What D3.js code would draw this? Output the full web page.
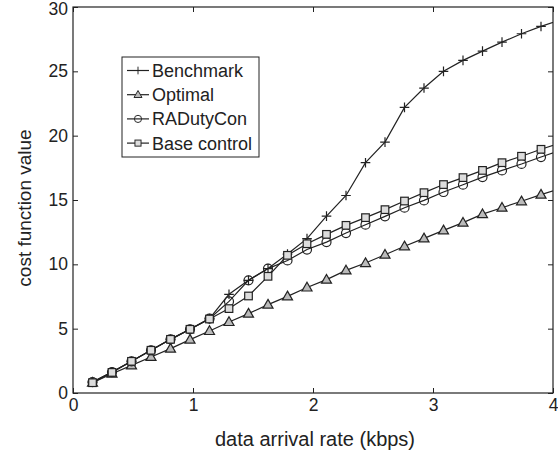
<!DOCTYPE html>
<html>
<head>
<meta charset="utf-8">
<script src="https://cdn.jsdelivr.net/npm/d3@7"></script>
<style>
  body { margin: 0; background: #fff; }
  text { font-family: "Liberation Sans", Arial, sans-serif; fill: #222; }
</style>
</head>
<body>
<div id="chart"></div>
<script>
// data
const xVals = d3.range(1, 26).map((k) => +(k * 0.1625).toFixed(4));
const benchmark = [0.85, 1.63, 2.46, 3.32, 4.17, 4.95, 5.78, 7.67, 8.76, 9.67, 10.8, 12.0, 13.75, 15.35, 17.9, 19.5, 22.2, 23.7, 25.0, 25.85, 26.57, 27.27, 27.92, 28.49, 29.0];
const optimal = [0.8, 1.5, 2.15, 2.8, 3.45, 4.15, 4.82, 5.52, 6.17, 6.87, 7.51, 8.2, 8.81, 9.53, 10.1, 10.75, 11.4, 12.02, 12.64, 13.24, 13.9, 14.4, 14.9, 15.42, 15.9];
const raDutyCon = [0.85, 1.63, 2.46, 3.32, 4.17, 4.95, 5.78, 7.12, 8.76, 9.67, 10.3, 11.15, 11.73, 12.43, 13.08, 13.73, 14.4, 14.97, 15.62, 16.19, 16.78, 17.3, 17.8, 18.34, 18.85];
const baseControl = [0.8, 1.6, 2.46, 3.32, 4.17, 4.95, 5.75, 6.56, 7.54, 9.07, 10.7, 11.6, 12.33, 13.03, 13.63, 14.25, 14.92, 15.57, 16.2, 16.74, 17.3, 17.9, 18.4, 18.94, 19.45];
const xTicks = [0, 1, 2, 3, 4];
const yTicks = [0, 5, 10, 15, 20, 25, 30];

const series = [
  { name: "Benchmark", values: benchmark, marker: "plus" },
  { name: "Optimal", values: optimal, marker: "triangle" },
  { name: "RADutyCon", values: raDutyCon, marker: "circle" },
  { name: "Base control", values: baseControl, marker: "square" },
];

const width = 558, height = 454;
const m = { t: 7, r: 5, b: 61, l: 73 };
const ink = "#222";

const svg = d3.select("#chart").append("svg").attr("width", width).attr("height", height);

const x = d3.scaleLinear().domain([0, 4]).range([m.l, width - m.r]);
const y = d3.scaleLinear().domain([0, 30]).range([height - m.b, m.t]);

svg.append("clipPath").attr("id", "clip")
  .append("rect")
  .attr("x", m.l).attr("y", m.t)
  .attr("width", width - m.l - m.r).attr("height", height - m.t - m.b);

// axes, MATLAB style with inward ticks on all sides
const tk = 5;
const axisStyle = (g) => {
  g.select(".domain").remove();
  g.selectAll("line").attr("stroke", ink);
  g.selectAll("text").attr("font-size", 17.5).style("fill", ink);
};
svg.append("g").attr("transform", `translate(0,${height - m.b})`)
  .call(d3.axisBottom(x).tickValues(xTicks).tickSize(-tk).tickPadding(6).tickFormat(d3.format("d")))
  .call(axisStyle).attr("font-family", null);
svg.append("g").attr("transform", `translate(0,${m.t})`)
  .call(d3.axisTop(x).tickValues(xTicks).tickSize(-tk).tickFormat(""))
  .call(axisStyle);
const yAxisG = svg.append("g").attr("transform", `translate(${m.l},0)`)
  .call(d3.axisLeft(y).tickValues(yTicks).tickSize(-tk).tickPadding(5).tickFormat(d3.format("d")))
  .call(axisStyle).attr("font-family", null);
// keep the top label inside the page
yAxisG.selectAll("text").filter((d) => d === 30).attr("dy", "0.4em");
svg.append("g").attr("transform", `translate(${width - m.r},0)`)
  .call(d3.axisRight(y).tickValues(yTicks).tickSize(-tk).tickFormat(""))
  .call(axisStyle);

svg.append("rect")
  .attr("x", m.l).attr("y", m.t)
  .attr("width", width - m.l - m.r).attr("height", height - m.t - m.b)
  .attr("fill", "none").attr("stroke", ink).attr("stroke-width", 1.2);

svg.append("text")
  .attr("x", 315).attr("y", 446)
  .attr("text-anchor", "middle").attr("font-size", 20)
  .text("data arrival rate (kbps)");
svg.append("text")
  .attr("transform", "translate(31,208) rotate(-90)")
  .attr("text-anchor", "middle").attr("font-size", 19)
  .text("cost function value");

// markers
function drawMarker(g, type) {
  if (type === "plus") {
    g.append("path").attr("d", "M-4.8,0H4.8M0,-4.8V4.8").attr("stroke", ink).attr("stroke-width", 1.2).attr("fill", "none");
  } else if (type === "triangle") {
    g.append("path").attr("d", "M0,-5.2L5,3.5L-5,3.5Z").attr("stroke", ink).attr("stroke-width", 1.2).attr("fill", "#bbb");
  } else if (type === "circle") {
    g.append("circle").attr("r", 4.5).attr("stroke", ink).attr("stroke-width", 1.2).attr("fill", "none");
  } else {
    g.append("rect").attr("x", -3.8).attr("y", -3.8).attr("width", 7.6).attr("height", 7.6).attr("stroke", ink).attr("stroke-width", 1.2).attr("fill", "#ddd");
  }
}

const line = d3.line().x((d) => x(d[0])).y((d) => y(d[1]));
const plot = svg.append("g").attr("clip-path", "url(#clip)");

series.forEach((s) => {
  const pts = xVals.map((xv, i) => [xv, s.values[i]]);
  plot.append("path").datum(pts).attr("d", line)
    .attr("fill", "none").attr("stroke", ink).attr("stroke-width", 1.2);
  plot.selectAll(null).data(pts.filter((p) => p[0] <= 4)).enter().append("g")
    .attr("transform", (p) => `translate(${x(p[0])},${y(p[1])})`)
    .each(function () { drawMarker(d3.select(this), s.marker); });
});

// legend
const lg = svg.append("g").attr("transform", "translate(122,57)");
lg.append("rect").attr("width", 137).attr("height", 100).attr("fill", "#fff").attr("stroke", ink).attr("stroke-width", 1);
series.forEach((s, i) => {
  const cy = 13.5 + i * 24.2;
  lg.append("line").attr("x1", 5).attr("x2", 27).attr("y1", cy).attr("y2", cy).attr("stroke", ink).attr("stroke-width", 1.2);
  const mk = lg.append("g").attr("transform", `translate(16,${cy}) scale(0.8)`);
  drawMarker(mk, s.marker);
  lg.append("text").attr("x", 30).attr("y", cy + 6.5).attr("font-size", 18).text(s.name);
});
</script>
</body>
</html>
